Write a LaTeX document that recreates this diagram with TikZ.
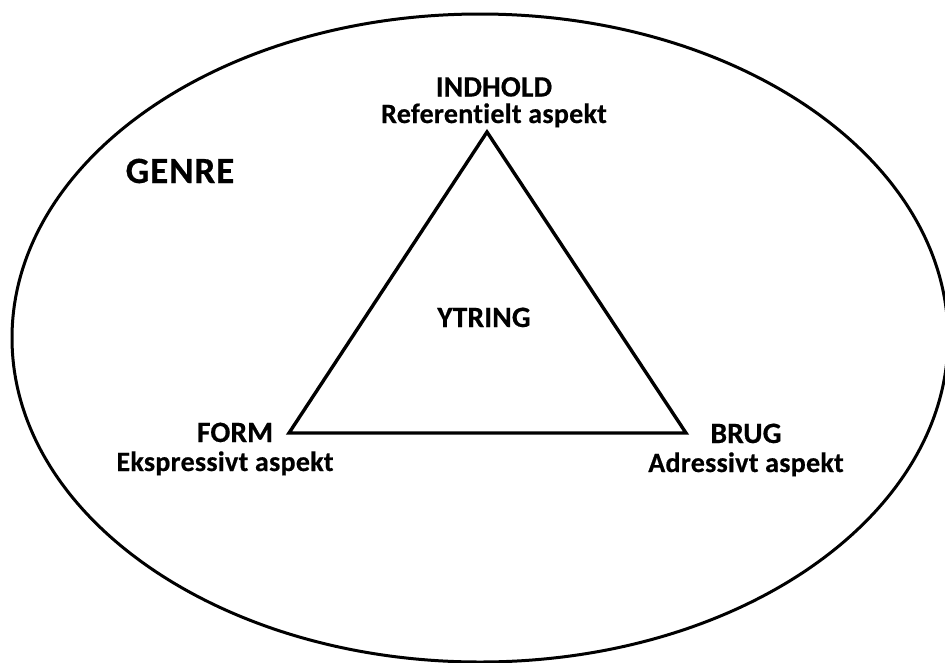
\documentclass[tikz,border=0pt]{standalone}
\usepackage{fontspec}
\setmainfont{Carlito}[Ligatures=NoCommon]
\begin{document}
\begin{tikzpicture}[x=1pt,y=-1pt,
  lbl/.style={font=\bfseries\fontsize{29.5}{32}\selectfont\addfontfeatures{LetterSpace=0.5,FakeBold=0.5}, inner sep=0pt, anchor=base},
  sublbl/.style={font=\bfseries\fontsize{28}{30}\selectfont\addfontfeatures{LetterSpace=1,FakeBold=0.5}, inner sep=0pt, anchor=base},
  big/.style={font=\bfseries\fontsize{37}{40}\selectfont\addfontfeatures{LetterSpace=2.5,FakeBold=0.5}, inner sep=0pt, anchor=base},
  edge/.style={line width=3.4pt, line join=miter}]
\useasboundingbox (0,0) rectangle (945,662);
\fill[white] (0,0) rectangle (945,662);
\draw[line width=3pt] (480,338) ellipse [x radius=468, y radius=324];
\coordinate (top) at (487,132);
\coordinate (left) at (289,433);
\coordinate (right) at (686,433);
\draw[edge] (top) -- (left) -- (right) -- cycle;
\node[lbl] (indhold) at (494,96.5) {INDHOLD};
\node[sublbl] (ref) at (494,123) {Referentielt aspekt};
\node[lbl] (form) at (235,442) {FORM};
\node[sublbl] (eks) at (225,471) {Ekspressivt aspekt};
\node[lbl] (brug) at (746,443) {BRUG};
\node[sublbl] (adr) at (746,472) {Adressivt aspekt};
\node[lbl] (ytring) at (484,327) {YTRING};
\node[big] (genre) at (180,183) {GENRE};
\end{tikzpicture}
\end{document}
